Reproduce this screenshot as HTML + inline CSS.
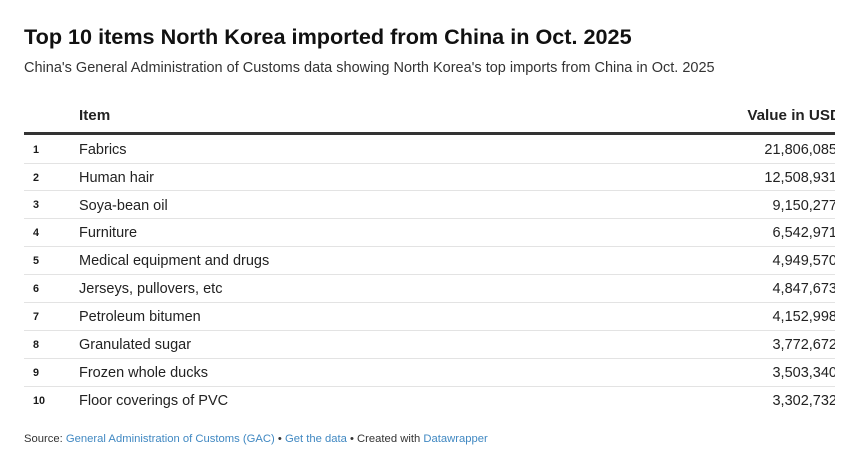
<!DOCTYPE html>
<html>
<head>
<meta charset="utf-8">
<style>
  html, body { margin:0; padding:0; background:#fff; }
  body { width:843px; height:456px; position:relative; overflow:hidden; font-family:"Liberation Sans", Arial, sans-serif; }
  .abs { position:absolute; white-space:nowrap; }
  #title { left:24px; top:25.8px; font-size:21.64px; line-height:21.64px; font-weight:bold; color:#111; }
  #sub { left:24px; top:61px; font-size:14.5px; line-height:14.5px; color:#333; }
  #clip { position:absolute; left:0; top:0; width:835px; height:420px; overflow:hidden; }
  .hdr { font-size:15.2px; line-height:15.2px; font-weight:bold; color:#222; top:108.4px; }
  #thick { position:absolute; left:24px; width:830px; top:132px; height:3px; background:#333; }
  .sep { position:absolute; left:24px; width:830px; height:1px; background:#e3e3e3; }
  .num { left:33px; font-size:10.8px; line-height:10.8px; font-weight:bold; color:#1a1a1a; }
  .item { left:79px; font-size:14.5px; line-height:14.5px; color:#222; }
  .val { right:-2px; font-size:14.5px; line-height:14.5px; color:#222; text-align:right; }
  #foot { left:24px; top:434.4px; font-size:11.25px; line-height:11.25px; color:#333; }
  #foot span { color:#4088c2; }
</style>
</head>
<body>
<div class="abs" id="title">Top 10 items North Korea imported from China in Oct. 2025</div>
<div class="abs" id="sub">China's General Administration of Customs data showing North Korea's top imports from China in Oct. 2025</div>

<div id="clip">
  <div class="abs hdr" style="left:79px;">Item</div>
  <div class="abs hdr" style="right:-6px;">Value in USD</div>
  <div id="thick"></div>

  <div class="sep" style="top:162.5px"></div>
  <div class="sep" style="top:190.4px"></div>
  <div class="sep" style="top:218.3px"></div>
  <div class="sep" style="top:246.2px"></div>
  <div class="sep" style="top:274.1px"></div>
  <div class="sep" style="top:302px"></div>
  <div class="sep" style="top:329.9px"></div>
  <div class="sep" style="top:357.8px"></div>
  <div class="sep" style="top:385.7px"></div>

  <div class="abs num" style="top:144.6px">1</div>
  <div class="abs item" style="top:142.7px">Fabrics</div>
  <div class="abs val" style="top:142.7px">21,806,085</div>

  <div class="abs num" style="top:172.5px">2</div>
  <div class="abs item" style="top:170.6px">Human hair</div>
  <div class="abs val" style="top:170.6px">12,508,931</div>

  <div class="abs num" style="top:200.4px">3</div>
  <div class="abs item" style="top:198.5px">Soya-bean oil</div>
  <div class="abs val" style="top:198.5px">9,150,277</div>

  <div class="abs num" style="top:228.3px">4</div>
  <div class="abs item" style="top:226.4px">Furniture</div>
  <div class="abs val" style="top:226.4px">6,542,971</div>

  <div class="abs num" style="top:256.2px">5</div>
  <div class="abs item" style="top:254.3px">Medical equipment and drugs</div>
  <div class="abs val" style="top:254.3px">4,949,570</div>

  <div class="abs num" style="top:284.1px">6</div>
  <div class="abs item" style="top:282.2px">Jerseys, pullovers, etc</div>
  <div class="abs val" style="top:282.2px">4,847,673</div>

  <div class="abs num" style="top:312px">7</div>
  <div class="abs item" style="top:310.1px">Petroleum bitumen</div>
  <div class="abs val" style="top:310.1px">4,152,998</div>

  <div class="abs num" style="top:339.9px">8</div>
  <div class="abs item" style="top:338px">Granulated sugar</div>
  <div class="abs val" style="top:338px">3,772,672</div>

  <div class="abs num" style="top:367.8px">9</div>
  <div class="abs item" style="top:365.9px">Frozen whole ducks</div>
  <div class="abs val" style="top:365.9px">3,503,340</div>

  <div class="abs num" style="top:395.7px">10</div>
  <div class="abs item" style="top:393.8px">Floor coverings of PVC</div>
  <div class="abs val" style="top:393.8px">3,302,732</div>
</div>

<div class="abs" id="foot">Source: <span>General Administration of Customs (GAC)</span> • <span>Get the data</span> • Created with <span>Datawrapper</span></div>
</body>
</html>
